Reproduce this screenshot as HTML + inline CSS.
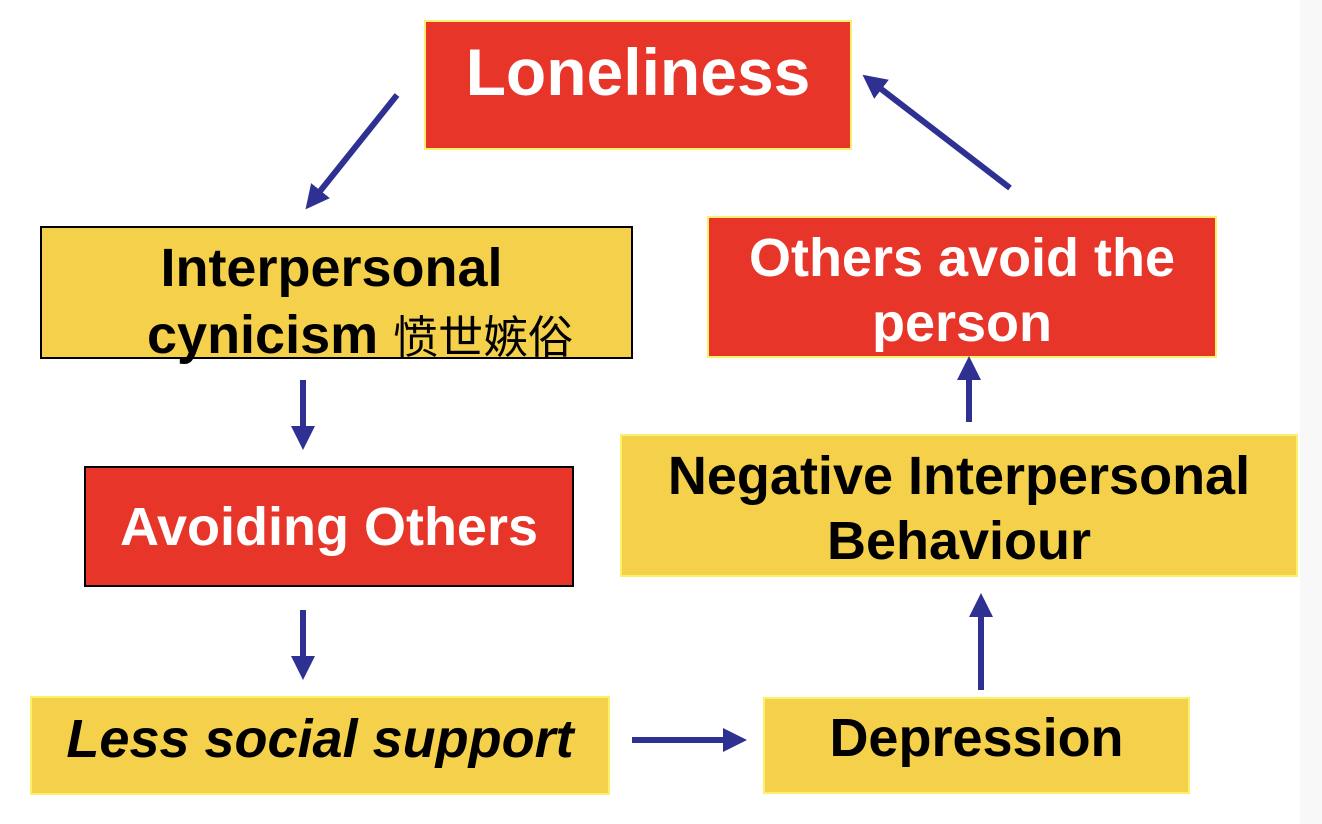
<!DOCTYPE html>
<html><head><meta charset="utf-8"><style>
body{margin:0;width:1322px;height:824px;background:#fff;position:relative;overflow:hidden;font-family:"Liberation Sans","Noto Sans CJK SC",sans-serif;font-weight:bold}
.b{position:absolute;box-sizing:border-box;text-align:center;line-height:65px;white-space:nowrap}
.r{background:#E8352A;color:#fff;border:2px solid #FAF06A}
.y{background:#F5D04A;color:#000;border:2px solid #FAF06A}
.k{border:2px solid #000}
</style></head><body>
<div style="position:absolute;right:0;top:0;width:22px;height:824px;background:#f8f8f8"></div>
<div class="b r" style="left:424px;top:20px;width:428px;height:130px;font-size:66px;line-height:100px">Loneliness</div>
<div class="b y k" style="left:40px;top:226px;width:593px;height:133px;font-size:54px;padding-top:8px"><div style="margin-left:-10px">Interpersonal</div><div style="text-align:left;padding-left:105px">cynicism <span style="font-weight:normal;font-family:'Noto Sans CJK SC',sans-serif;font-size:45px">愤世嫉俗</span></div></div>
<div class="b r k" style="left:84px;top:466px;width:490px;height:121px;font-size:54px;line-height:118px">Avoiding Others</div>
<div class="b y" style="left:30px;top:696px;width:580px;height:99px;font-size:54px;line-height:82px;font-style:italic">Less social support</div>
<div class="b y" style="left:763px;top:697px;width:427px;height:97px;font-size:54px;line-height:78px">Depression</div>
<div class="b y" style="left:620px;top:434px;width:678px;height:143px;font-size:54px;padding-top:8px">Negative Interpersonal<br>Behaviour</div>
<div class="b r" style="left:707px;top:216px;width:510px;height:142px;font-size:54px;padding-top:8px">Others avoid the<br>person</div>
<svg width="1322" height="824" style="position:absolute;left:0;top:0">
<defs><marker id="a" markerWidth="4" markerHeight="4" refX="2" refY="2" orient="auto" markerUnits="strokeWidth"><path d="M0,0L4,2L0,4z" fill="#2E3192"/></marker></defs>
<g stroke="#2E3192" stroke-width="6" marker-end="url(#a)">
<line x1="397" y1="95" x2="313" y2="200"/>
<line x1="303" y1="380" x2="303" y2="438"/>
<line x1="303" y1="610" x2="303" y2="668"/>
<line x1="632" y1="740" x2="735" y2="740"/>
<line x1="981" y1="690" x2="981" y2="605"/>
<line x1="969" y1="422" x2="969" y2="368"/>
<line x1="1010" y1="188" x2="872" y2="82"/>
</g></svg>
</body></html>
